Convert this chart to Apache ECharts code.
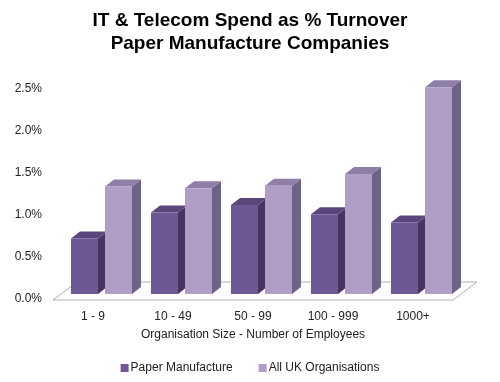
<!DOCTYPE html>
<html>
<head>
<meta charset="utf-8">
<script src="https://cdn.jsdelivr.net/npm/echarts@6/dist/echarts.min.js"></script>
<style>html,body{margin:0;padding:0;background:#fff}#c{width:500px;height:382px}</style>
</head>
<body>
<div id="c"></div>
<script>
var categories = ['1 - 9', '10 - 49', '50 - 99', '100 - 999', '1000+'];
var paperManufacture = [0.66, 0.97, 1.06, 0.95, 0.85];
var allUkOrganisations = [1.28, 1.26, 1.29, 1.43, 2.46];
var seriesNames = ['Paper Manufacture', 'All UK Organisations'];
var yTicks = [0, 0.5, 1.0, 1.5, 2.0, 2.5];

var FONT = '"Liberation Sans", Arial, sans-serif';
var DEPTH_X = 8, DEPTH_Y = -5;   // bar placement depth shift
var SIDE_X = 9, SIDE_Y = -7;     // bar depth extrusion
var FLOOR_X = 24, FLOOR_Y = -18; // floor depth
var BAR_W = 27;

var palettes = [
  {front: '#6e5894', side: '#46365f', top: '#5b467b'},
  {front: '#b09ec8', side: '#6f6384', top: '#8e7ea8'}
];

function makeBarRenderer(offset, pal) {
  return function (params, api) {
    var cat = api.value(0), val = api.value(1);
    var base = api.coord([cat, 0]);
    var tip = api.coord([cat, val]);
    var x0 = base[0] + offset + DEPTH_X;
    var x1 = x0 + BAR_W;
    var yb = base[1] + DEPTH_Y;
    var yt = tip[1] + DEPTH_Y;
    return {
      type: 'group',
      children: [
        {type: 'polygon', shape: {points: [[x1, yt], [x1 + SIDE_X, yt + SIDE_Y], [x1 + SIDE_X, yb + SIDE_Y], [x1, yb]]},
         style: {fill: pal.side}},
        {type: 'polygon', shape: {points: [[x0, yt], [x1, yt], [x1 + SIDE_X, yt + SIDE_Y], [x0 + SIDE_X, yt + SIDE_Y]]},
         style: {fill: pal.top}},
        {type: 'rect', shape: {x: x0, y: yt, width: BAR_W, height: yb - yt},
         style: {fill: pal.front}}
      ]
    };
  };
}

function floorRenderer(params, api) {
  var cs = params.coordSys;
  var y = api.coord([0, 0])[1] + 1;
  var xl = cs.x, xr = cs.x + cs.width;
  return {
    type: 'polygon',
    shape: {points: [[xl, y], [xr, y], [xr + FLOOR_X, y + FLOOR_Y], [xl + FLOOR_X, y + FLOOR_Y]]},
    style: {fill: '#ffffff', stroke: '#b0b0b0', lineWidth: 1}
  };
}

var chart = echarts.init(document.getElementById('c'), null, {renderer: 'canvas'});
chart.setOption({
  backgroundColor: '#ffffff',
  animation: false,
  title: {
    text: 'IT & Telecom Spend as % Turnover\nPaper Manufacture Companies',
    left: 'center',
    top: 4,
    textStyle: {fontFamily: FONT, fontSize: 19, fontWeight: 'bold', color: '#000', lineHeight: 23}
  },
  legend: {
    bottom: 3,
    left: 'center',
    itemWidth: 8,
    itemHeight: 8,
    itemGap: 26,
    icon: 'rect',
    data: seriesNames,
    textStyle: {fontFamily: FONT, fontSize: 12, color: '#222', padding: [0, 0, 0, -3]}
  },
  grid: {left: 53, right: 47, top: 89, bottom: 83},
  xAxis: {
    type: 'category',
    data: categories,
    axisLine: {show: false},
    axisTick: {show: false},
    axisLabel: {fontFamily: FONT, fontSize: 12, color: '#222', margin: 12},
    name: 'Organisation Size - Number of Employees',
    nameLocation: 'middle',
    nameGap: 30,
    nameTextStyle: {fontFamily: FONT, fontSize: 12, color: '#222'}
  },
  yAxis: {
    type: 'value',
    min: yTicks[0],
    max: yTicks[yTicks.length - 1],
    interval: 0.5,
    axisLine: {show: false},
    axisTick: {show: false},
    splitLine: {show: false},
    axisLabel: {fontFamily: FONT, fontSize: 12, color: '#222', margin: 11,
      formatter: function (v) { return v.toFixed(1) + '%'; }}
  },
  series: [
    {type: 'custom', name: 'floor', renderItem: floorRenderer, data: [[0, 0]], z: 1, silent: true},
    {type: 'custom', name: seriesNames[0], renderItem: makeBarRenderer(-30, palettes[0]),
     itemStyle: {color: palettes[0].front}, z: 2,
     data: paperManufacture.map(function (v, i) { return [i, v]; })},
    {type: 'custom', name: seriesNames[1], renderItem: makeBarRenderer(4, palettes[1]),
     itemStyle: {color: palettes[1].front}, z: 2,
     data: allUkOrganisations.map(function (v, i) { return [i, v]; })}
  ]
});
</script>
</body>
</html>
